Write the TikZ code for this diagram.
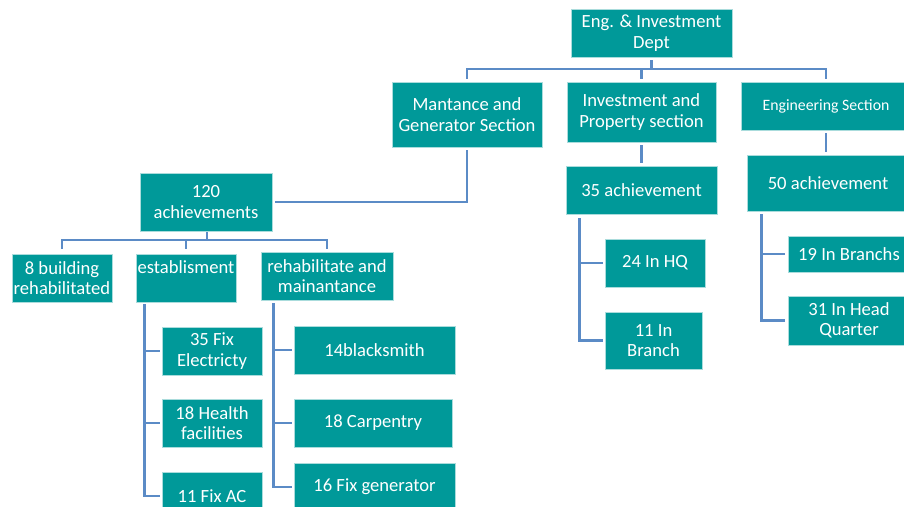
\documentclass[tikz,border=0pt]{standalone}
\usepackage{fontspec}
\setmainfont{Carlito}
\definecolor{boxteal}{RGB}{0,153,153}
\definecolor{boxedge}{RGB}{170,220,220}
\definecolor{conncol}{RGB}{91,139,198}
\begin{document}
\begin{tikzpicture}[x=1pt,y=-1pt,
  box/.style={fill=boxteal,draw=boxedge,line width=0.6pt,inner sep=0pt,
    text=white,align=center,font=\fontsize{18.6}{20.5}\selectfont},
  conn/.style={draw=conncol,line width=2.6pt}]
\useasboundingbox (0,0) rectangle (904,506);
\fill[white] (0,0) rectangle (904,506);
% bus points
\coordinate (b1) at (652,69);
\coordinate (b2) at (207,240);
% boxes
\node[box,minimum width=161pt,minimum height=48pt] (eng) at (651.5,33) {Eng. \& Investment\\Dept};
\node[box,minimum width=150pt,minimum height=65pt] (mant) at (467,114.5) {Mantance and\\Generator Section};
\node[box,minimum width=149pt,minimum height=60pt] (inv) at (641.5,112) {Investment and\\Property section};
\node[box,minimum width=170pt,minimum height=48pt,font=\fontsize{15.8}{18}\selectfont] (engsec) at (826,106) {Engineering Section};
\node[box,minimum width=151pt,minimum height=48pt] (a35) at (641.5,190) {35 achievement};
\node[box,minimum width=162pt,minimum height=56pt] (a50) at (828,183) {50 achievement};
\node[box,minimum width=132pt,minimum height=58pt] (a120) at (206,202) {120\\achievements};
\node[box,minimum width=100pt,minimum height=48pt] (b8) at (62,278) {8 building\\rehabilitated};
\node[box,minimum width=100pt,minimum height=48pt,
  label={[text=white,font=\fontsize{18.6}{20.5}\selectfont,yshift=11pt]center:establisment}] (est) at (186,278) {};
\node[box,minimum width=132pt,minimum height=48pt] (reh) at (327,276) {rehabilitate and\\mainantance};
\node[box,minimum width=100pt,minimum height=48pt] (fe) at (212,351) {35 Fix\\Electricty};
\node[box,minimum width=100pt,minimum height=48pt] (hf) at (212,423) {18 Health\\facilities};
\node[box,minimum width=100pt,minimum height=48pt] (ac) at (212,496) {11 Fix AC};
\node[box,minimum width=161pt,minimum height=48pt] (bs) at (374.5,350) {14blacksmith};
\node[box,minimum width=158pt,minimum height=48pt] (cp) at (373,423) {18 Carpentry};
\node[box,minimum width=161pt,minimum height=48pt] (gen) at (374.5,487) {16 Fix generator};
\node[box,minimum width=100pt,minimum height=48pt] (hq) at (655,263) {24 In HQ};
\node[box,minimum width=97pt,minimum height=57pt] (br) at (653.5,340.5) {11 In\\Branch};
\node[box,minimum width=122pt,minimum height=36pt] (b19) at (849,254) {19 In Branchs};
\node[box,minimum width=122pt,minimum height=49pt] (hq31) at (849,320.5) {31 In Head\\Quarter};
% top level
\draw[conn] ([yshift=-3pt]eng.south) -- (eng.south |- b1);
\draw[conn] ([yshift=3pt]mant.north) |- (b1) -| ([yshift=3pt]engsec.north);
\draw[conn] ([yshift=3pt]inv.north) -- (inv.north |- b1);
\draw[conn] ([yshift=-3pt]mant.south) |- ([xshift=3pt]a120.east);
\draw[conn] ([yshift=-3pt]inv.south) -- ([yshift=3pt]a35.north);
\draw[conn] ([yshift=-3pt]engsec.south) -- ([yshift=3pt]engsec.south |- a50.north);
% 120 achievements
\draw[conn] ([yshift=-1pt]a120.south -| b2) -- (b2);
\draw[conn] ([yshift=5pt]b8.north) |- (b2) -| ([yshift=3pt]reh.north);
\draw[conn] ([yshift=5pt]est.north) -- (est.north |- b2);
% establisment
\draw[conn] ([xshift=9pt,yshift=-2pt]est.south west) |- ([xshift=-2pt]fe.west);
\draw[conn] ([xshift=9pt,yshift=-2pt]est.south west) |- ([xshift=-2pt]hf.west);
\draw[conn] ([xshift=9pt,yshift=-2pt]est.south west) |- ([xshift=-2pt]ac.west);
% rehabilitate
\draw[conn] ([xshift=13pt,yshift=-3pt]reh.south west) |- ([xshift=-2pt]bs.west);
\draw[conn] ([xshift=13pt,yshift=-3pt]reh.south west) |- ([xshift=-2pt]cp.west);
\draw[conn] ([xshift=13pt,yshift=-3pt]reh.south west) |- ([xshift=-2pt]gen.west);
% 35 achievement
\draw[conn] ([xshift=14pt,yshift=-4pt]a35.south west) |- ([xshift=-2pt]hq.west);
\draw[conn] ([xshift=14pt,yshift=-4pt]a35.south west) |- ([xshift=-2pt]br.west);
% 50 achievement
\draw[conn] ([xshift=15pt,yshift=-3pt]a50.south west) |- ([xshift=-3pt]b19.west);
\draw[conn] ([xshift=15pt,yshift=-3pt]a50.south west) |- ([xshift=-3pt]hq31.west);
\end{tikzpicture}
\end{document}
